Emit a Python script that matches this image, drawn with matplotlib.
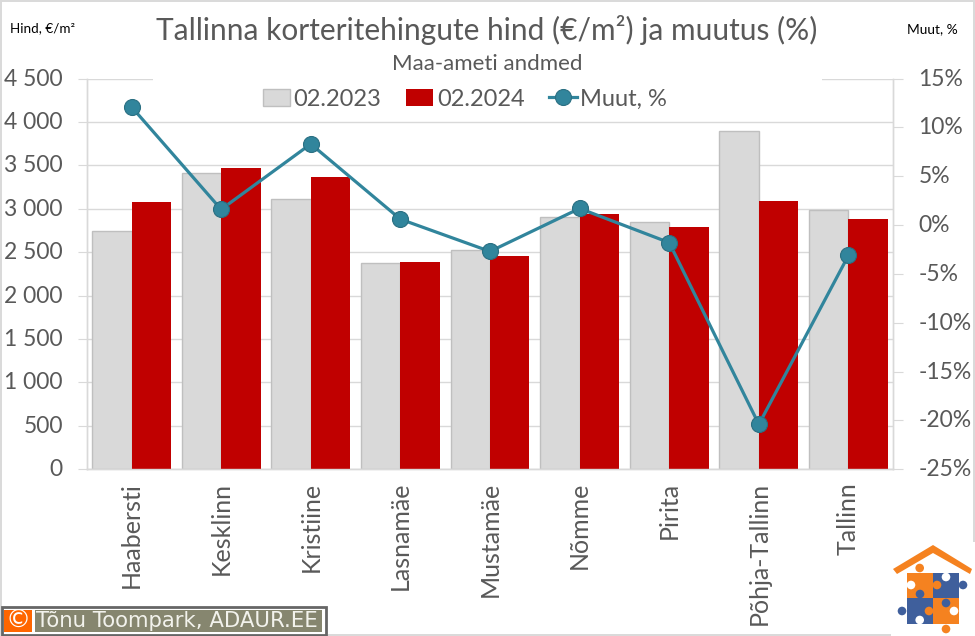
import matplotlib
matplotlib.use("Agg")
import matplotlib.pyplot as plt
from matplotlib.patches import Rectangle, Circle, Polygon
from matplotlib.ticker import FuncFormatter, FixedLocator
from matplotlib.transforms import ScaledTranslation
import numpy as np

districts = ["Haabersti", "Kesklinn", "Kristiine", "Lasnamäe", "Mustamäe", "Nõmme", "Pirita", "Põhja-Tallinn", "Tallinn"]
price_2023 = [2742, 3410, 3110, 2370, 2523, 2900, 2842, 3893, 2984]
price_2024 = [3076, 3467, 3364, 2385, 2454, 2938, 2788, 3087, 2880]
change_pct = [12.1, 1.6, 8.3, 0.6, -2.7, 1.7, -1.8, -20.4, -3.1]
left_ticks = [0, 500, 1000, 1500, 2000, 2500, 3000, 3500, 4000, 4500]
right_ticks = [-25, -20, -15, -10, -5, 0, 5, 10, 15]

FONT = "Lato"
GREY = "#595959"
AXC = "#D9D9D9"
W, H = 975, 636
plt.rcParams["font.family"] = [FONT, "DejaVu Sans"]
plt.rcParams["ytick.alignment"] = "center_baseline"

fig = plt.figure(figsize=(W / 100, H / 100), dpi=100, facecolor="white")
L, R, T, B = 86.7, 893.3, 78.5, 469.3
ax = fig.add_axes([L / W, 1 - B / H, (R - L) / W, (B - T) / H])
ax2 = ax.twinx()
ax.set_zorder(1); ax2.set_zorder(2); ax2.patch.set_visible(False)

x = np.arange(len(districts))
bw = 0.44
b1 = ax.bar(x - bw / 2, price_2023, bw, color="#D9D9D9", edgecolor="#BFBFBF", linewidth=1, label="02.2023", zorder=2)
b2 = ax.bar(x + bw / 2, price_2024, bw, color="#C00000", edgecolor="none", label="02.2024", zorder=3)
ln, = ax2.plot(x, change_pct, color="#31859C", lw=2.3, marker="o", ms=11.5, mfc="#31859C", mec="#2A6F82", mew=0.8, label="Muut, %", zorder=5)

ax.set_xlim(-0.5, len(districts) - 0.5)
ax.set_ylim(0, 4500)
ax2.set_ylim(-25, 15)
ax.yaxis.set_major_locator(FixedLocator(left_ticks))
ax2.yaxis.set_major_locator(FixedLocator(right_ticks))
ax.yaxis.set_major_formatter(FuncFormatter(lambda v, p: f"{int(v):,}".replace(",", " ")))
ax2.yaxis.set_major_formatter(FuncFormatter(lambda v, p: f"{int(v)}%"))
ax.set_axisbelow(True)
ax.grid(axis="y", color=AXC, lw=1, zorder=0.5)
ax.set_xticks(x)
ax.set_xticklabels(districts, rotation=90, fontsize=18, color=GREY)
ax.tick_params(axis="x", length=0, pad=9)
ax.tick_params(axis="y", length=6.2, width=0.8, color=AXC, labelsize=16.5, labelcolor=GREY, pad=11)
ax2.tick_params(axis="y", length=7.2, width=0.8, color=AXC, labelsize=16.5, labelcolor=GREY, pad=11)
for a in (ax, ax2):
    for s in a.spines.values():
        s.set_color(AXC); s.set_linewidth(1)
    a.spines["top"].set_visible(False)

up = ScaledTranslation(0, 1.5 / 100, fig.dpi_scale_trans)
for tick in ax.yaxis.get_major_ticks():
    tick.label1.set_transform(tick.label1.get_transform() + up)
for tick in ax2.yaxis.get_major_ticks():
    tick.label2.set_transform(tick.label2.get_transform() + up)

# white box behind title block hides part of top gridline
ax.add_patch(Rectangle((153 / W, 1 - 112 / H), (822 - 153) / W, 40 / H, transform=fig.transFigure,
                       fc="white", ec="none", zorder=0.8, clip_on=False))

leg = ax2.legend([b1, b2, ln], ["02.2023", "02.2024", "Muut, %"], ncol=3, frameon=False, fontsize=17,
                 labelcolor=GREY, loc="center", bbox_to_anchor=(465 / W, 1 - 99 / H), bbox_transform=fig.transFigure,
                 handlelength=1.15, handleheight=0.7, handletextpad=0.15, columnspacing=1.05, borderpad=0, borderaxespad=0)

# overlay in pixel coordinates
ov = fig.add_axes([0, 0, 1, 1], zorder=10)
ov.set_xlim(0, W); ov.set_ylim(H, 0); ov.axis("off"); ov.patch.set_visible(False)
ov.add_patch(Rectangle((1, 1), 973, 634, fc="none", ec=AXC, lw=1.4))

ov.text(486.5, 30, "Tallinna korteritehingute hind (€/m²) ja muutus (%)", fontsize=21.5, color=GREY, ha="center", va="center")
ov.text(487, 64, "Maa-ameti andmed", fontsize=16, color=GREY, ha="center", va="center")
ov.text(10, 28, "Hind, €/m²", fontsize=9.7, color="black", ha="left", va="center")
ov.text(907, 29, "Muut, %", fontsize=9.9, color="black", ha="left", va="center")

# credit box
ov.add_patch(Rectangle((2, 607), 324, 28, fc="white", ec="#666666", lw=2))
ov.add_patch(Rectangle((4, 610), 28, 22, fc="#FF6600", ec="none"))
ov.add_patch(Rectangle((35, 610), 287, 22, fc="#86866F", ec="none"))
ov.text(18, 620.5, "©", family="DejaVu Sans", fontsize=18, color="white", ha="center", va="center")
ov.text(36, 621, "Tõnu Toompark, ADAUR.EE", family="DejaVu Sans", fontsize=15.3, color="#F2F2EC", ha="left", va="center")

# logo
O, BL = "#F58220", "#3F5F9C"
ov.add_patch(Rectangle((891, 542), 84, 94, fc="white", ec="none"))
ov.add_patch(Polygon([(893, 569), (933, 545), (972, 569), (970, 574), (933, 553), (897, 574)], fc=O, ec="none"))
ov.add_patch(Rectangle((907, 573), 26, 25, fc=O, ec="none"))
ov.add_patch(Rectangle((933, 573), 26, 25, fc=BL, ec="none"))
ov.add_patch(Rectangle((907, 598), 26, 26, fc=BL, ec="none"))
ov.add_patch(Rectangle((933, 598), 26, 26, fc=O, ec="none"))
for cx, cy, c in [(919.7, 568, O), (911, 585, "white"), (937, 585, O), (946, 577, "white"), (963, 585, BL),
                  (920, 594, BL), (902, 611, BL), (929, 611, O), (919.7, 620, "white"), (946, 603, BL),
                  (954, 611, "white"), (946, 629, O)]:
    ov.add_patch(Circle((cx, cy), 4.3, fc=c, ec="none"))

fig.savefig("out.png", dpi=100, facecolor="white")
